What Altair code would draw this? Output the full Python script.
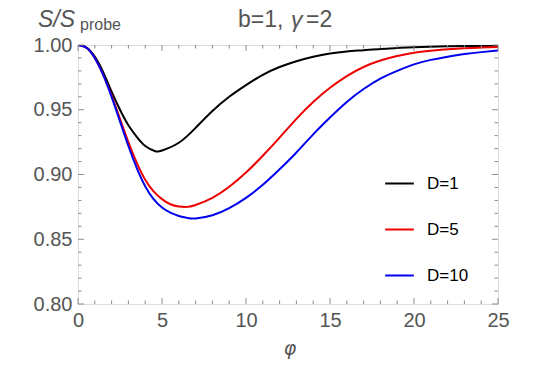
import altair as alt
import pandas as pd

# ---- data ----
phi_d1 = [0, 0.5, 1, 1.5, 2, 2.5, 3, 3.5, 4, 4.6, 5, 6, 7, 8, 9, 10, 11, 12, 13, 14, 15, 16, 17, 18, 19, 20, 22, 25]
s_d1 = [1.000, 0.998, 0.991, 0.979, 0.964, 0.950, 0.938, 0.929, 0.922, 0.918, 0.9185, 0.9245, 0.936, 0.949,
        0.960, 0.969, 0.977, 0.983, 0.9875, 0.991, 0.9935, 0.995, 0.996, 0.997, 0.9977, 0.9983, 0.999, 0.9995]

phi_d5 = [0, 0.5, 1, 1.5, 2, 2.5, 3, 3.5, 4, 4.5, 5, 5.5, 6, 6.5, 7, 8, 9, 10, 11, 12, 13, 14, 15, 16, 17, 18,
          19, 20, 21, 22, 23, 24, 25]
s_d5 = [1.000, 0.998, 0.990, 0.977, 0.961, 0.943, 0.925, 0.909, 0.896, 0.887, 0.881, 0.877, 0.8753, 0.875, 0.8765,
        0.882, 0.8905, 0.9015, 0.9145, 0.9285, 0.943, 0.956, 0.967, 0.976, 0.983, 0.988, 0.9915, 0.994, 0.9955,
        0.9967, 0.9975, 0.998, 0.9985]

phi_d10 = [0, 0.5, 1, 1.5, 2, 2.5, 3, 3.5, 4, 4.5, 5, 5.5, 6, 6.5, 7, 8, 9, 10, 11, 12, 13, 14, 15, 16, 17, 18,
           19, 20, 21, 22, 23, 24, 25]
s_d10 = [1.000, 0.998, 0.990, 0.977, 0.960, 0.941, 0.922, 0.905, 0.891, 0.881, 0.8745, 0.8705, 0.868, 0.8665,
         0.866, 0.8685, 0.874, 0.882, 0.892, 0.904, 0.917, 0.931, 0.944, 0.956, 0.966, 0.974, 0.980, 0.985,
         0.9885, 0.991, 0.993, 0.9945, 0.9957]

series_names = ["D=1", "D=5", "D=10"]
series_colors = ["#000000", "#ee0000", "#0000ee"]

x_major = [0, 5, 10, 15, 20, 25]
x_minor = [v for v in range(0, 26) if v % 5 != 0]
y_major = [0.80, 0.85, 0.90, 0.95, 1.00]
y_minor = [round(0.80 + 0.01 * i, 2) for i in range(21) if i % 5 != 0]

rows = []
for name, xs, ys in zip(series_names, [phi_d1, phi_d5, phi_d10], [s_d1, s_d5, s_d10]):
    for a, b in zip(xs, ys):
        rows.append({"phi": a, "S": b, "series": name})
df = pd.DataFrame(rows)

FONT = "Liberation Sans"
FRAME = "#8c8c8c"
TXT = "#555555"
W, H = 420, 259
MAJ, MIN = 6, 3.5

xscale = alt.Scale(domain=[0, 25], nice=False, zero=False)
yscale = alt.Scale(domain=[0.8, 1.0], nice=False, zero=False)

lines = alt.Chart(df).mark_line(strokeWidth=2, interpolate="natural", clip=True).encode(
    x=alt.X("phi:Q", scale=xscale,
            axis=alt.Axis(orient="bottom", values=x_major, ticks=False, domain=False,
                          labelFont=FONT, labelFontSize=20, labelColor=TXT, labelPadding=6,
                          labelFlush=False, grid=False, title=None)),
    y=alt.Y("S:Q", scale=yscale,
            axis=alt.Axis(orient="left", values=y_major, format=".2f", ticks=False, domain=False,
                          labelFont=FONT, labelFontSize=20, labelColor=TXT,
                          labelPadding=6, labelFlush=False, grid=False, title=None)),
    color=alt.Color("series:N", scale=alt.Scale(domain=series_names, range=series_colors),
                    legend=alt.Legend(orient="none", legendX=306, legendY=123, title=None,
                                      symbolType="stroke", symbolStrokeWidth=2, symbolSize=820,
                                      labelFont=FONT, labelFontSize=17, labelColor="#000000",
                                      labelOffset=12, rowPadding=22)),
    detail="series:N",
)


def xticks(values, y0, y1):
    d = pd.DataFrame({"v": values})
    return alt.Chart(d).mark_rule(color=FRAME, strokeWidth=1).encode(
        x=alt.X("v:Q", scale=xscale, axis=None), y=alt.value(y0), y2=alt.value(y1))


def yticks(values, x0, x1):
    d = pd.DataFrame({"v": values})
    return alt.Chart(d).mark_rule(color=FRAME, strokeWidth=1).encode(
        y=alt.Y("v:Q", scale=yscale, axis=None), x=alt.value(x0), x2=alt.value(x1))


ticks = [
    xticks(x_major, H, H - MAJ), xticks(x_minor, H, H - MIN),
    xticks(x_major, 0, MAJ), xticks(x_minor, 0, MIN),
    yticks(y_major, 0, MAJ), yticks(y_minor, 0, MIN),
    yticks(y_major, W, W - MAJ), yticks(y_minor, W, W - MIN),
]

lab = pd.DataFrame({"t": [0]})


def label(text, x, y, size, style="normal", font=FONT, align="left"):
    return alt.Chart(lab).mark_text(text=text, font=font, fontSize=size, fontStyle=style, color=TXT,
                                    align=align, baseline="alphabetic").encode(
        x=alt.value(x), y=alt.value(y))


texts = [
    label("S/S", -40, -18, 23, "italic"),
    label("probe", 2, -15, 16),
    label("b=1,", 160, -18, 23),
    label("γ", 213, -18, 23, "italic"),
    label("=2", 228, -18, 23),
    label("φ", 212, 310, 19, "italic", font="DejaVu Sans", align="center"),
]

chart = alt.layer(lines, *ticks, *texts).resolve_axis(
    x="independent", y="independent"
).properties(
    width=W, height=H,
    autosize=alt.AutoSizeParams(type="none"),
    padding={"left": 70, "top": 37, "right": 34, "bottom": 57},
).configure_view(stroke=FRAME, strokeWidth=1).configure(background="white")

chart.save("out.html", embed_options={"renderer": "svg", "actions": False})
